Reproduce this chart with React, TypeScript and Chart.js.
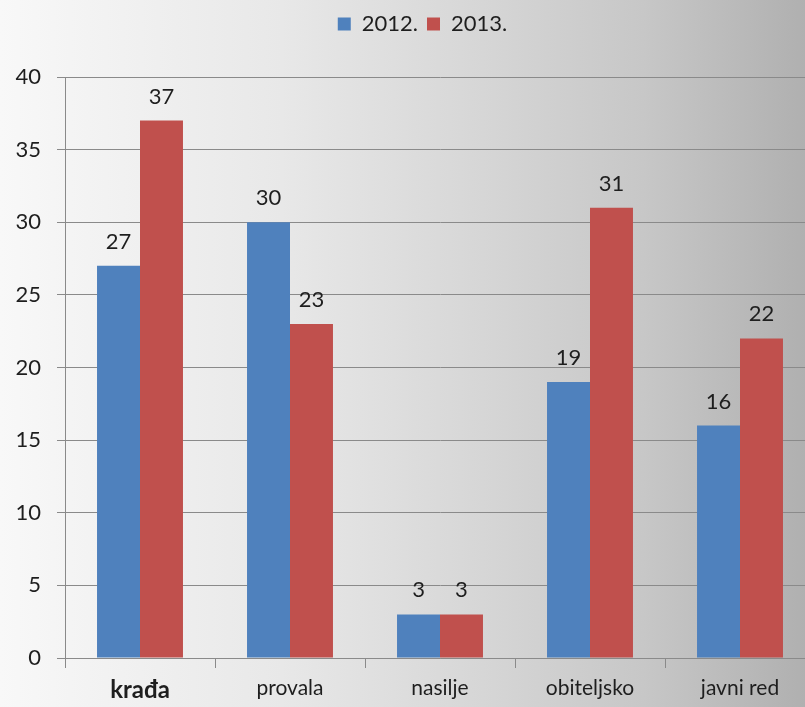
import React, { useEffect, useRef } from "react";
import { Chart, registerables } from "chart.js";

Chart.register(...registerables);

const categories = ["krađa", "provala", "nasilje", "obiteljsko", "javni red"];
const series2012 = [27, 30, 3, 19, 16];
const series2013 = [37, 23, 3, 31, 22];
const seriesLabels = ["2012.", "2013."];
const yTicks = { min: 0, max: 40, step: 5 };

const FONT = "Lato, 'Open Sans', sans-serif";

const bgPlugin = {
  id: "bgGradient",
  beforeDraw(chart: any) {
    const { ctx, width, height } = chart;
    const g = ctx.createLinearGradient(0, 0, 805, 0);
    g.addColorStop(0, "#f8f8f8");
    g.addColorStop(0.35, "#e8e8e8");
    g.addColorStop(0.6, "#d6d6d6");
    g.addColorStop(0.8, "#c7c7c7");
    g.addColorStop(1, "#b0b0b0");
    ctx.save();
    ctx.fillStyle = g;
    ctx.fillRect(0, 0, width, height);
    ctx.restore();
  },
};

const valueLabels = {
  id: "valueLabels",
  afterDatasetsDraw(chart: any) {
    const { ctx } = chart;
    ctx.save();
    ctx.font = `22px ${FONT}`;
    ctx.fillStyle = "#1e1e1e";
    ctx.textAlign = "center";
    ctx.textBaseline = "alphabetic";
    chart.data.datasets.forEach((ds: any, i: number) => {
      const meta = chart.getDatasetMeta(i);
      meta.data.forEach((bar: any, j: number) => {
        ctx.fillText(String(ds.data[j]), bar.x, bar.y - 17);
      });
    });
    ctx.restore();
  },
};

export default function App() {
  const ref = useRef<HTMLCanvasElement>(null);
  useEffect(() => {
    document.body.style.margin = "0";
    document.body.style.overflow = "hidden";
    const chart = new Chart(ref.current!, {
      type: "bar",
      data: {
        labels: categories,
        datasets: [
          { label: seriesLabels[0], data: series2012, backgroundColor: "#4F81BD" },
          { label: seriesLabels[1], data: series2013, backgroundColor: "#C0504D" },
        ],
      },
      options: {
        animation: false,
        responsive: false,
        datasets: { bar: { categoryPercentage: 0.573, barPercentage: 1 } },
        layout: { padding: { top: 4, right: 0, left: 0, bottom: 0 } },
        plugins: {
          legend: {
            display: true,
            position: "top",
            labels: {
              font: { family: FONT, size: 22 },
              color: "#1e1e1e",
              boxWidth: 13,
              boxHeight: 13,
              padding: 9,
            },
          },
          subtitle: {
            display: true,
            position: "top",
            weight: 500,
            text: " ",
            font: { size: 10 },
            padding: { top: 20, bottom: 0 },
          },
          tooltip: { enabled: false },
        },
        scales: {
          x: {
            offset: true,
            grid: {
              offset: true,
              drawOnChartArea: false,
              color: "#8a8a8a",
              tickLength: 10,
            },
            border: { color: "#8a8a8a" },
            ticks: {
              color: "#1e1e1e",
              padding: 8,
              font: (ctx: any) =>
                ctx.index === 0
                  ? { family: FONT, size: 24, weight: "bold" }
                  : { family: FONT, size: 21 },
            },
            afterFit: (s: any) => {
              s.height = 49;
            },
          } as any,
          y: {
            min: yTicks.min,
            max: yTicks.max,
            ticks: { stepSize: yTicks.step, color: "#1e1e1e", padding: 16, font: { family: FONT, size: 22 } },
            grid: { color: "#8a8a8a", tickLength: 8 },
            border: { color: "#8a8a8a" },
            afterFit: (s: any) => {
              s.width = 65;
            },
          } as any,
          spacer: {
            type: "linear",
            position: "right",
            display: true,
            grid: { display: false, drawTicks: false },
            border: { display: false },
            ticks: { display: false },
            afterFit: (s: any) => {
              s.width = 30;
            },
          } as any,
        },
      },
      plugins: [bgPlugin, valueLabels],
    });
    return () => chart.destroy();
  }, []);
  return <canvas ref={ref} width={845} height={707} style={{ display: "block" }} />;
}
